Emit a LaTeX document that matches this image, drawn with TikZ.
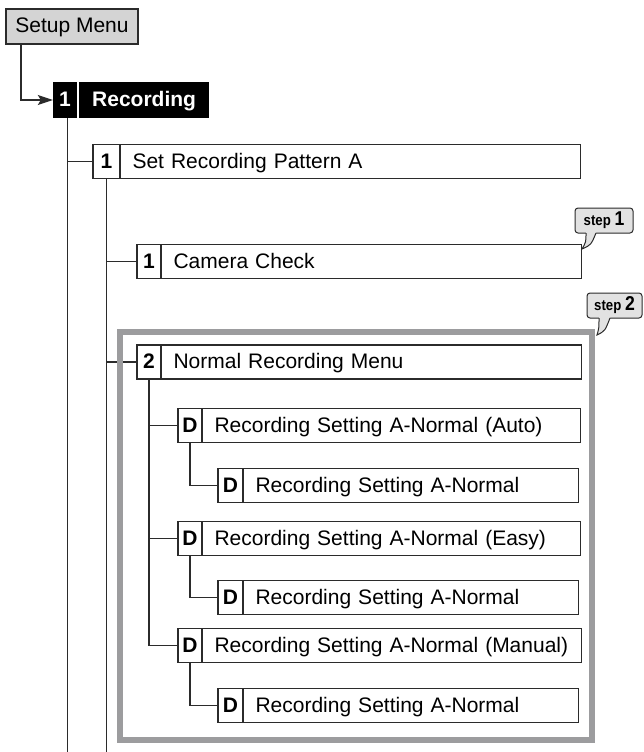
\documentclass[tikz,border=0pt]{standalone}
\usepackage{fontspec}
\setmainfont{Liberation Sans}
\newfontfamily\narrowbold[FakeStretch=0.88]{Liberation Sans Bold}
\usetikzlibrary{arrows.meta,calc}
\definecolor{ink}{HTML}{2B2B2B}
\definecolor{framegray}{HTML}{9C9C9E}
\definecolor{setupfill}{HTML}{D4D4D4}
\definecolor{bubblefill}{HTML}{E2E2E2}
\newcommand{\rowbox}[7]{%
  \pgfmathsetmacro{\rbnw}{#5-#4}%
  \pgfmathsetmacro{\rbtw}{#6-#5-24}%
  \node[numcell, minimum width=\rbnw pt] (#1n) at ({(#4+#5)/2},#7) {#2};
  \node[txtcell, text width=\rbtw pt, anchor=west] (#1t) at (#5,#7) {#3};
}
\tikzset{
  conn/.style={draw=ink, line width=1.1pt},
  numcell/.style={draw=ink, fill=white, line width=1.1pt, minimum height=34pt, inner sep=0pt,
    font=\fontsize{21}{25}\selectfont\bfseries, text height=15.5pt, text depth=2.5pt},
  txtcell/.style={draw=ink, fill=white, line width=1.1pt, minimum height=34pt, inner xsep=12pt, inner ysep=0pt,
    font=\fontsize{21}{25}\selectfont, text height=15.5pt, text depth=2.5pt, align=left},
  bubble/.style={draw=ink, fill=bubblefill, line width=1pt, rounded corners=3pt, inner sep=0pt,
    minimum height=25pt, font=\bfseries},
}
\begin{document}
\begin{tikzpicture}[x=1pt, y=-1pt]
\useasboundingbox (0,0) rectangle (643,752);
% ---- nodes
\node[draw=ink, fill=setupfill, line width=1.1pt, minimum width=132pt, minimum height=35pt,
  inner sep=0pt, font=\fontsize{21}{25}\selectfont, text height=15.5pt, text depth=2.5pt] (setup) at (72,26.5) {Setup Menu};
\node[fill=black, minimum width=24pt, minimum height=36pt, inner sep=0pt, text=white,
  font=\fontsize{21}{25}\selectfont\bfseries, text height=15.5pt, text depth=2.5pt] (recn) at (65,100) {1};
\node[fill=black, minimum width=130pt, minimum height=36pt, inner xsep=13pt, inner ysep=0pt, text=white, text width=104pt, align=left,
  font=\fontsize{21}{25}\selectfont\bfseries, text height=15.5pt, text depth=2.5pt, anchor=west] (rect) at (79,100) {Recording};
\coordinate (recv) at (67.5,752);
\coordinate (setv) at (106.5,752);

% ---- connectors (drawn before boxes)
\draw[conn, -{Stealth[length=15pt,width=10pt,inset=3pt]}] ($(setup.south west)+(15.5,0)$) |- (recn.west);
\draw[conn] (recv |- recn.south) -- (recv);
\draw[conn] (recv |- 0,161.5) -- (93,161.5);
\draw[conn] (setv |- 0,178) -- (setv);
\draw[conn] (setv |- 0,261.5) -- (137,261.5);
\draw[conn] (setv |- 0,362) -- (137,362);

% ---- frame
\node[draw=framegray, line width=6pt, minimum width=472pt, minimum height=408pt, inner sep=0pt] (frame) at (356,536) {};

% ---- boxes
\rowbox{set}{1}{Set Recording Pattern A}{93}{120}{580}{161.5}
\rowbox{cam}{1}{Camera Check}{137}{161}{581}{261.5}
\rowbox{norm}{2}{Normal Recording Menu}{137}{161}{581}{362}
\rowbox{aut}{D}{Recording Setting A-Normal (Auto)}{178}{202}{580}{425.5}
\rowbox{auts}{D}{Recording Setting A-Normal}{218}{243}{578}{485.5}
\rowbox{eas}{D}{Recording Setting A-Normal (Easy)}{178}{202}{580}{538.5}
\rowbox{eass}{D}{Recording Setting A-Normal}{218}{243}{578}{597.5}
\rowbox{man}{D}{Recording Setting A-Normal (Manual)}{178}{202}{581}{645.5}
\rowbox{mans}{D}{Recording Setting A-Normal}{218}{243}{578}{705.5}

% ---- inner connectors
\draw[conn] (normn.south) |- (mann.west);
\draw[conn] (normn.south |- autn.west) -- (autn.west);
\draw[conn] (normn.south |- easn.west) -- (easn.west);
\draw[conn] (autn.south) |- (autsn.west);
\draw[conn] (easn.south) |- (eassn.west);
\draw[conn] (mann.south) |- (mansn.west);

% ---- callouts
\node[bubble, minimum width=58pt] (step1) at (604,220.5) {\narrowbold\fontsize{15}{17}\selectfont step \fontsize{20}{22}\selectfont 1};
\coordinate (tip1) at (582,249);
\fill[bubblefill] (586,231) -- (586,233) .. controls (586,242) .. (tip1) .. controls (591,245) .. (596,233) -- (596,231) -- cycle;
\draw[ink, line width=1pt] (586,233) .. controls (586,242) .. (tip1) .. controls (591,245) .. (596,233);

\node[bubble, minimum width=55pt] (step2) at (614.5,305.5) {\narrowbold\fontsize{15}{17}\selectfont step \fontsize{20}{22}\selectfont 2};
\coordinate (tip2) at (597,335);
\fill[bubblefill] (599,316) -- (599,318) .. controls (599,328) .. (tip2) .. controls (605,331) .. (610,318) -- (610,316) -- cycle;
\draw[ink, line width=1pt] (599,318) .. controls (599,328) .. (tip2) .. controls (605,331) .. (610,318);
\end{tikzpicture}
\end{document}
